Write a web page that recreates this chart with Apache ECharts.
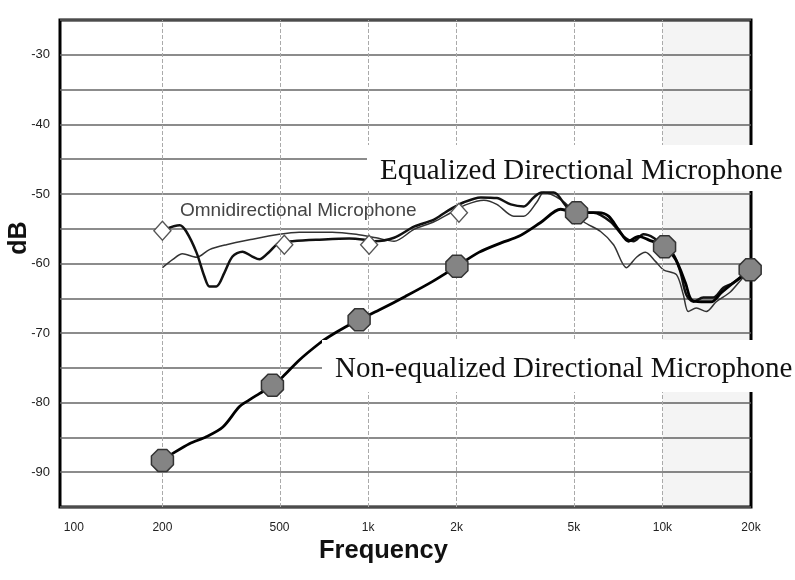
<!DOCTYPE html>
<html>
<head>
<meta charset="utf-8">
<script src="https://cdn.jsdelivr.net/npm/echarts@6/dist/echarts.min.js"></script>
<style>
html,body{margin:0;padding:0;background:#fff;}
#chart{width:795px;height:580px;}
</style>
</head>
<body>
<div id="chart"></div>
<script>
// ---- data (frequency in Hz, level in dB) ----
const tickFreqs  = [100, 200, 500, 1000, 2000, 5000, 10000, 20000];
const tickLabels = ['100', '200', '500', '1k', '2k', '5k', '10k', '20k'];
const gridFreqs  = [200, 500, 1000, 2000, 5000, 10000];
const shadeFreqs = [10000, 20000];

const eqFreq = [203, 229, 241, 261, 278, 289, 305, 325, 346, 374, 404, 427, 462, 499, 553, 666, 862, 985,
  1048, 1225, 1432, 1674, 1852, 2115, 2416, 2737, 3052, 3380, 3653, 3889, 4272, 4726, 5110,
  5836, 6664, 7377, 7975, 8623, 9322, 10080, 10900, 11510, 12060, 12740, 13770, 14890, 16100, 17400, 19560];
const eqDb = [-55.1, -54.5, -55.4, -58.4, -61.9, -63.3, -63.3, -61.3, -59.0, -58.3, -59.0, -59.4, -58.3, -57.0, -56.8, -56.6, -56.4, -56.6,
  -56.8, -56.3, -54.7, -53.7, -52.5, -51.2, -50.5, -50.6, -51.5, -51.8, -50.5, -49.8, -49.8, -51.8, -52.7,
  -52.7, -54.0, -56.1, -56.8, -55.8, -56.3, -57.6, -58.7, -61.2, -64.5, -65.5, -64.9, -64.9, -63.5, -62.8, -61.2];

const omniFreq = [200, 217, 234, 261, 289, 330, 395, 499, 583, 755, 911, 1064,
  1225, 1432, 1674, 1911, 2166, 2474, 2737, 3125, 3380, 3741, 3951, 4510, 4993,
  5398, 6164, 6823, 7551, 8164, 8758, 9469, 10080, 11160, 11780, 12250, 13040, 14100, 15240, 17010, 18820, 19870];
const omniDb = [-60.6, -59.4, -58.6, -59.1, -58.0, -57.3, -56.6, -55.8, -55.5, -55.5, -55.8, -56.3,
  -56.8, -55.1, -54.0, -52.7, -51.5, -50.9, -51.5, -53.2, -53.2, -51.2, -49.8, -50.8, -52.5,
  -54.0, -55.4, -57.3, -60.6, -59.1, -58.4, -59.7, -60.9, -61.6, -64.5, -66.9, -66.4, -66.9, -65.5, -64.1, -62.0, -61.2];

const nonEqFreq = [200, 217, 247, 282, 321, 365, 395, 427, 473, 512, 583, 682, 738, 840, 932, 1090, 1342, 1652,
  2003, 2377, 2845, 3250, 3858, 4510, 5108,
  6065, 6560, 7090, 7670, 8295, 8970, 10170, 11080, 11980, 12540, 13560, 14660, 15850, 17140, 18530, 19870];
const nonEqDb = [-88.3, -87.3, -85.9, -84.9, -83.5, -80.6, -79.6, -78.7, -77.5, -76.3, -73.9, -71.5, -70.5, -69.1, -68.1, -66.7, -64.7, -62.6,
  -60.4, -58.4, -57.0, -56.1, -54.1, -52.2, -52.7,
  -52.7, -53.2, -55.1, -56.8, -56.1, -56.6, -57.6, -59.4, -62.8, -65.2, -65.5, -65.5, -64.2, -63.0, -61.9, -60.9];

const nonEqMarkFreq = [200, 473, 932, 2003, 5108, 10170, 19870];
const nonEqMarkDb   = [-88.3, -77.5, -68.1, -60.4, -52.7, -57.6, -60.9];

const omniMarkFreq = [200, 519, 1008, 2035];
const omniMarkDb   = [-55.3, -57.3, -57.3, -52.7];

// ---- helpers ----
const lg = f => Math.log10(f);
const pairs = (fs, ds) => fs.map((f, i) => [lg(f), ds[i]]);
const labelOf = {};
tickFreqs.forEach((f, i) => { labelOf[lg(f).toFixed(4)] = tickLabels[i]; });

const octagon = 'path://M30,0 L70,0 L100,30 L100,70 L70,100 L30,100 L0,70 L0,30 Z';

const chart = echarts.init(document.getElementById('chart'), null, {renderer: 'canvas'});
chart.setOption({
  animation: false,
  backgroundColor: '#fff',
  grid: {left: 60, right: 44, top: 20, bottom: 73, show: true, outerBoundsMode: 'none', containLabel: false,
         borderColor: '#000', borderWidth: 3, backgroundColor: 'transparent'},
  xAxis: {
    type: 'value', min: 1.953, max: lg(20000),
    axisLine: {show: false},
    axisTick: {show: false},
    splitLine: {show: false},
    axisLabel: {
      customValues: tickFreqs.map(lg),
      formatter: v => labelOf[Number(v).toFixed(4)] || '',
      margin: 15, color: '#222', fontSize: 12,
      fontFamily: 'Liberation Sans Narrow, Liberation Sans, Arial'
    }
  },
  yAxis: {
    type: 'value', min: -95, max: -25, interval: 5,
    axisLine: {show: false},
    axisTick: {show: false},
    splitLine: {show: true, lineStyle: {color: '#666', width: 1.6}},
    axisLabel: {
      formatter: v => (v % 10 === 0 ? String(v) : ''),
      margin: 10, color: '#222', fontSize: 13,
      fontFamily: 'Liberation Sans Narrow, Liberation Sans, Arial'
    }
  },
  series: [
    {
      name: 'grid', type: 'line', data: [], silent: true,
      markLine: {
        silent: true, symbol: 'none', label: {show: false},
        lineStyle: {color: '#aaa', type: 'dashed', width: 1},
        data: gridFreqs.map(f => ({xAxis: lg(f)}))
      },
      markArea: {
        silent: true, itemStyle: {color: 'rgba(0,0,0,0.045)'},
        data: [[{xAxis: lg(shadeFreqs[0])}, {xAxis: lg(shadeFreqs[1])}]]
      }
    },
    {
      name: 'Omnidirectional Microphone', type: 'line', smooth: 0.3, showSymbol: false,
      data: pairs(omniFreq, omniDb),
      lineStyle: {color: '#333', width: 1.5}
    },
    {
      name: 'Equalized Directional Microphone', type: 'line', smooth: 0.3, showSymbol: false,
      data: pairs(eqFreq, eqDb),
      lineStyle: {color: '#111', width: 2.5}
    },
    {
      name: 'Non-equalized Directional Microphone', type: 'line', smooth: 0.3, showSymbol: false,
      data: pairs(nonEqFreq, nonEqDb),
      lineStyle: {color: '#000', width: 2.8}
    },
    {
      name: 'Non-equalized markers', type: 'scatter', symbol: octagon, symbolSize: 22,
      data: pairs(nonEqMarkFreq, nonEqMarkDb), z: 5,
      itemStyle: {color: '#848484', borderColor: '#333', borderWidth: 1.5, opacity: 1}
    },
    {
      name: 'Omni markers', type: 'scatter', symbol: 'diamond', symbolSize: [17, 19],
      data: pairs(omniMarkFreq, omniMarkDb), z: 5,
      itemStyle: {color: '#fff', borderColor: '#555', borderWidth: 1.4, opacity: 1}
    }
  ],
  graphic: [
    {type: 'rect', z: 50, shape: {x: 367, y: 145, width: 428, height: 46}, style: {fill: '#fff'}},
    {type: 'text', z: 51, left: 380, top: 157,
     style: {text: 'Equalized Directional Microphone', fontSize: 29, fontFamily: 'Liberation Serif, Times New Roman, serif', fill: '#111'}},
    {type: 'rect', z: 50, shape: {x: 322, y: 340, width: 473, height: 52}, style: {fill: '#fff'}},
    {type: 'text', z: 51, left: 335, top: 355,
     style: {text: 'Non-equalized Directional Microphone', fontSize: 29, fontFamily: 'Liberation Serif, Times New Roman, serif', fill: '#111'}},
    {type: 'text', z: 51, left: 180, top: 201,
     style: {text: 'Omnidirectional Microphone', fontSize: 19, fontFamily: 'Liberation Sans Narrow, Liberation Sans, Arial', fill: '#444'}},
    {type: 'text', z: 51, left: 319, top: 538,
     style: {text: 'Frequency', fontSize: 25.5, fontWeight: 'bold', fontFamily: 'Liberation Sans Narrow, Liberation Sans, Arial', fill: '#111'}},
    {type: 'text', z: 51, x: 19, y: 238, rotation: Math.PI / 2,
     style: {text: 'dB', fontSize: 25, fontWeight: 'bold', fontFamily: 'Liberation Sans, Arial', fill: '#111',
             align: 'center', verticalAlign: 'middle'}}
  ]
});
</script>
</body>
</html>
